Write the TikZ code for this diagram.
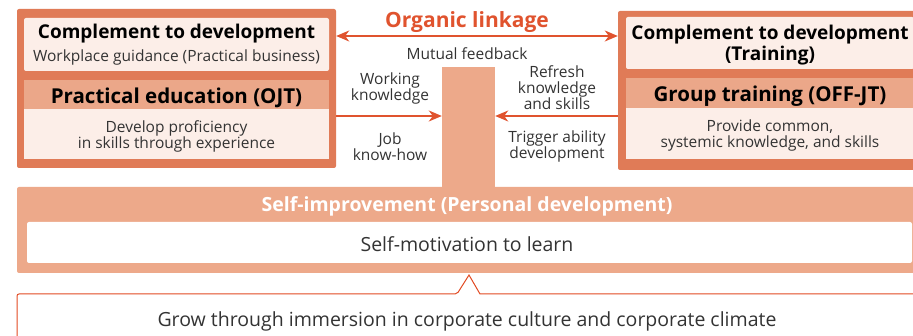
\documentclass[tikz,border=0pt]{standalone}
\usepackage{fontspec}
\setmainfont{Open Sans}
\usetikzlibrary{arrows.meta}
\usetikzlibrary{positioning}

\definecolor{frameorange}{HTML}{E07B57}
\definecolor{paleblush}{HTML}{FCEEE8}
\definecolor{headpeach}{HTML}{EBA789}
\definecolor{selfpeach}{HTML}{EDA98A}
\definecolor{linkred}{HTML}{E0532E}
\definecolor{culturered}{HTML}{E24A22}
\definecolor{bodygray}{HTML}{333333}

\tikzset{
    framebox/.style={fill=frameorange, rounded corners=2pt, inner sep=0},
    whitebox/.style={fill=paleblush, rounded corners=2pt, inner sep=0},
    headbox/.style={fill=headpeach, inner sep=0},
    bodybox/.style={fill=paleblush, inner sep=0},
    titletext/.style={font=\fontsize{19}{21}\selectfont\bfseries, text=black, yshift=-2pt},
    headtext/.style={font=\fontsize{20.5}{22}\selectfont\bfseries, text=black, yshift=-3pt},
    smalltext/.style={font=\fontsize{15.5}{16}\selectfont, text=bodygray, align=center, yshift=-2pt},
    bigtext/.style={font=\fontsize{19.5}{22}\selectfont, text=bodygray, yshift=-1.5pt},
    linkarrow/.style={draw=linkred, line width=1.6pt, -{Stealth[length=13pt,width=11pt,inset=4pt]}},
}

\begin{document}
\begin{tikzpicture}[x=1pt,y=-1pt]
    \clip (0,0) rectangle (913,336);

    % left block: workplace side
    \node[framebox, minimum width=319, minimum height=159] (ojtframe) at (176.5,88.5) {};
    \node[whitebox, minimum width=305, minimum height=53] (ojtguide) at (176.5,44.5) {};
    \node[titletext] (ojtguidetitle) at (176.5,32) {Complement to development};
    \node[smalltext] (ojtguidesub) at (176.5,55) {Workplace guidance (Practical business)};
    \node[headbox, minimum width=305, minimum height=29] (ojthead) at (176.5,94.5) {};
    \node[headtext] at (ojthead) {Practical education (OJT)};
    \node[bodybox, minimum width=305, minimum height=50] (ojtbody) at (176.5,134) {};
    \node[smalltext] at (ojtbody) {Develop proficiency\\in skills through experience};

    % right block: training side
    \node[framebox, minimum width=304, minimum height=159] (offframe) at (770,90.5) {};
    \node[whitebox, minimum width=288, minimum height=52] (offguide) at (770,43) {};
    \node[titletext, align=center] at (offguide) {Complement to development\\(Training)};
    \node[headbox, minimum width=288, minimum height=30] (offhead) at (770,93) {};
    \node[headtext] at (offhead) {Group training (OFF-JT)};
    \node[bodybox, minimum width=288, minimum height=51] (offbody) at (770,133.5) {};
    \node[smalltext] at (offbody) {Provide common,\\systemic knowledge, and skills};

    % self-improvement base
    \node[fill=selfpeach, rounded corners=2pt, minimum width=908, minimum height=86, inner sep=0] (selfbox) at (471,230) {};
    \node[fill=selfpeach, minimum width=53, minimum height=122, inner sep=0] (column) at (468.5,128) {};
    \node[font=\fontsize{19.5}{22}\selectfont\bfseries, text=white, yshift=-2pt] (selftitle) at (467,204) {Self-improvement (Personal development)};
    \node[fill=white, rounded corners=2pt, minimum width=885, minimum height=41, inner sep=0] (selfinner) at (469.5,242.5) {};
    \node[bigtext] at (467,242.5) {Self-motivation to learn};

    % culture box with notch
    \draw[culturered, line width=1pt, fill=white, rounded corners=2pt]
        (17,345) -- (17,294) -- (457,294) [sharp corners] -- (469,275) -- (480,294) -- (930,294);
    \node[bigtext] (culture) at (467,320) {Grow through immersion in corporate culture and corporate climate};

    % organic linkage
    \node[font=\fontsize{21}{24}\selectfont\bfseries, text=linkred, yshift=-3pt] (linkage) at (467,19) {Organic linkage};
    \draw[linkarrow, {Stealth[length=13pt,width=11pt,inset=4pt]}-{Stealth[length=13pt,width=11pt,inset=4pt]}]
        (ojtframe.east |- 0,36) -- (offframe.west |- 0,36);
    \node[smalltext] (feedback) at (467,52) {Mutual feedback};

    % flows into the column
    \draw[linkarrow] (ojtframe.east |- 0,116) -- (column.west |- 0,116);
    \draw[linkarrow] (offframe.west |- 0,116) -- (column.east |- 0,116);
    \node[smalltext] (working) at (390,86) {Working\\knowledge};
    \node[smalltext] (jobhow) at (390,145) {Job\\know-how};
    \node[smalltext] (refresh) at (557,86) {Refresh\\knowledge\\and skills};
    \node[smalltext] (trigger) at (557,144) {Trigger ability\\development};
\end{tikzpicture}
\end{document}
